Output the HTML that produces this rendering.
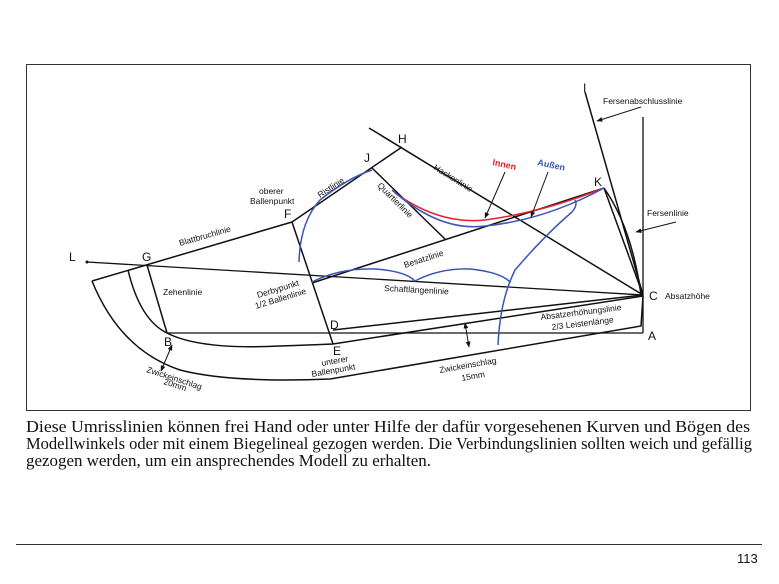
<!DOCTYPE html>
<html><head><meta charset="utf-8"><style>
html,body{margin:0;padding:0;background:#fff;}
svg{display:block;}
text{font-family:"Liberation Sans",Arial,sans-serif;fill:#111;}
.s{font-family:"Liberation Serif",serif;font-size:16.5px;}
</style></head><body>
<svg width="779" height="584" viewBox="0 0 779 584" xmlns="http://www.w3.org/2000/svg">
<defs>
<marker id="a" viewBox="0 0 10 10" refX="9" refY="5" markerWidth="6" markerHeight="6" orient="auto-start-reverse"><path d="M0,1 L10,5 L0,9 z" fill="#111"/></marker>
</defs>
<rect x="26.5" y="64.5" width="724" height="346" fill="none" stroke="#333" stroke-width="1"/>
<g stroke="#111" stroke-width="1.5" fill="none">
<line x1="87" y1="262" x2="643" y2="295" stroke-width="1.3"/>
<line x1="92" y1="281" x2="292" y2="222"/>
<line x1="292" y1="222" x2="402" y2="147"/>
<line x1="369" y1="128" x2="643" y2="295"/>
<line x1="372" y1="168" x2="446" y2="240"/>
<line x1="312" y1="283" x2="604" y2="188"/>
<line x1="604" y1="188" x2="643" y2="295"/>
<line x1="292" y1="222" x2="333" y2="344"/>
<line x1="147" y1="265" x2="167" y2="333"/>
<line x1="167" y1="333" x2="643" y2="333" stroke-width="1.3"/>
<line x1="643" y1="117" x2="643" y2="333" stroke-width="1.3"/>
<line x1="333" y1="330" x2="643" y2="295"/>
<path d="M128,270 Q140,320 167,333 Q200,350 280,346 Q310,345 333,344 L643,296"/>
<path d="M92,281 Q120,350 180,370 Q230,383 330,379 L641,326 L643,296"/>
<line x1="585" y1="92" x2="643" y2="295"/>
<path d="M604,188 Q632,228 641,295"/>
</g>
<path d="M395,193 Q440,225 485,220 Q540,213 604,188" stroke="#e0202a" stroke-width="1.5" fill="none"/>
<path d="M392,190 Q440,232 485,226 Q545,220 604,188" stroke="#3b55b5" stroke-width="1.5" fill="none"/>
<g stroke="#3b55b5" stroke-width="1.5" fill="none">
<path d="M372,170 Q348,178 320,200 Q300,222 299,262"/>
<path d="M312,282 Q340,268 375,269 Q405,271 415,281 Q440,268 470,269 Q500,272 510,282"/>
<path d="M498,345 Q500,300 515,270 Q545,235 572,212 Q578,205 575,200"/>
</g>
<g stroke="#111" stroke-width="1" fill="none">
<line x1="505" y1="172" x2="485" y2="218" marker-end="url(#a)"/>
<line x1="548" y1="172" x2="531" y2="217" marker-end="url(#a)"/>
<line x1="641" y1="107" x2="597" y2="121" marker-end="url(#a)"/>
<line x1="676" y1="222" x2="636" y2="232" marker-end="url(#a)"/>
<line x1="172" y1="345" x2="161" y2="371" marker-start="url(#a)" marker-end="url(#a)"/>
<line x1="465" y1="323" x2="469" y2="347" marker-start="url(#a)" marker-end="url(#a)"/>
</g>
<circle cx="87" cy="262" r="1.5" fill="#111"/>
<g font-size="12">
<text x="69" y="261">L</text><text x="142" y="261">G</text><text x="284" y="218">F</text>
<text x="364" y="162">J</text><text x="398" y="143">H</text><text x="594" y="186">K</text>
<text x="583" y="92">I</text><text x="649" y="300">C</text><text x="648" y="340">A</text>
<text x="164" y="346">B</text><text x="330" y="329">D</text><text x="333" y="355">E</text>
</g>
<g font-size="8.5">
<text x="665" y="299">Absatzhöhe</text>
<text x="603" y="104">Fersenabschlusslinie</text>
<text x="647" y="216">Fersenlinie</text>
<text x="163" y="295">Zehenlinie</text>
<text x="259" y="194">oberer</text><text x="250" y="204">Ballenpunkt</text>
<text transform="translate(180,246) rotate(-16)">Blattbruchlinie</text>
<text transform="translate(320,198) rotate(-33)">Ristlinie</text>
<text transform="translate(377,186) rotate(45)">Quartierlinie</text>
<text transform="translate(433,169) rotate(32)">Hackenlinie</text>
<text transform="translate(405,268) rotate(-18)">Besatzlinie</text>
<text transform="translate(384,291) rotate(3)">Schaftlängenlinie</text>
<text transform="translate(258,298) rotate(-17)">Derbypunkt</text>
<text transform="translate(256,309) rotate(-17)">1/2 Ballenlinie</text>
<text transform="translate(541,320) rotate(-7)">Absatzerhöhungslinie</text>
<text transform="translate(552,330) rotate(-7)">2/3 Leistenlänge</text>
<text transform="translate(322,366) rotate(-10)">unterer</text>
<text transform="translate(312,377) rotate(-10)">Ballenpunkt</text>
<text transform="translate(440,373) rotate(-10)">Zwickeinschlag</text>
<text transform="translate(462,381) rotate(-10)">15mm</text>
<text transform="translate(146,372) rotate(18)">Zwickeinschlag</text>
<text transform="translate(163,384) rotate(18)">20mm</text>
</g>
<text transform="translate(492,165) rotate(12)" font-size="9" font-weight="bold" style="fill:#e0202a">Innen</text>
<text transform="translate(537,165) rotate(12)" font-size="9" font-weight="bold" style="fill:#3b55b5">Außen</text>
<text class="s" x="26" y="432" textLength="724" lengthAdjust="spacingAndGlyphs">Diese Umrisslinien können frei Hand oder unter Hilfe der dafür vorgesehenen Kurven und Bögen des</text>
<text class="s" x="26" y="449" textLength="726" lengthAdjust="spacingAndGlyphs">Modellwinkels oder mit einem Biegelineal gezogen werden. Die Verbindungslinien sollten weich und gefällig</text>
<text class="s" x="26" y="466" textLength="405" lengthAdjust="spacingAndGlyphs">gezogen werden, um ein ansprechendes Modell zu erhalten.</text>
<line x1="16" y1="544.5" x2="762" y2="544.5" stroke="#333" stroke-width="1"/>
<text x="737" y="563" font-size="13">113</text>
</svg>
</body></html>
